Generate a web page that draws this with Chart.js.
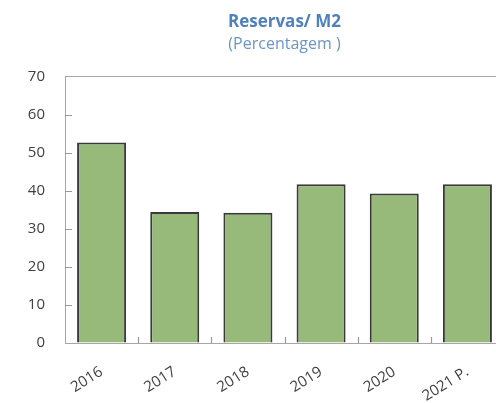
<!DOCTYPE html>
<html>
<head>
<meta charset="utf-8">
<script src="https://cdn.jsdelivr.net/npm/chart.js@4/dist/chart.umd.min.js"></script>
<style>
html,body{margin:0;padding:0;background:#fff;overflow:hidden;}
#wrap{width:504px;height:403px;position:relative;}
</style>
</head>
<body>
<div id="wrap"><canvas id="c"></canvas></div>
<script>
const categories = ['2016', '2017', '2018', '2019', '2020', '2021 P.'];
const reservasM2 = [52.7, 34.4, 34.2, 41.7, 39.3, 41.7];
const yMin = 0, yMax = 70, yStep = 10;
const titleText = 'Reservas/ M2';
const subtitleText = '(Percentagem )';

const axisGray = '#a6a6a6';
const textGray = '#404040';

const innerTicks = {
  id: 'innerTicks',
  afterDraw(chart) {
    const {ctx, chartArea, scales} = chart;
    const x = scales.x, y = scales.y;
    ctx.save();
    ctx.strokeStyle = '#9a9a9a';
    ctx.lineWidth = 1.2;
    ctx.beginPath();
    y.ticks.forEach(t => {
      if (t.value === yMin || t.value === yMax) return;
      const py = Math.round(y.getPixelForValue(t.value)) + 0.5;
      ctx.moveTo(chartArea.left, py);
      ctx.lineTo(chartArea.left + 7, py);
    });
    for (let i = 1; i < categories.length; i++) {
      const px = Math.round((x.getPixelForValue(i - 1) + x.getPixelForValue(i)) / 2) + 0.5;
      ctx.moveTo(px, chartArea.bottom);
      ctx.lineTo(px, chartArea.bottom - 6);
    }
    ctx.stroke();
    ctx.restore();
  }
};

new Chart(document.getElementById('c'), {
  type: 'bar',
  data: {
    labels: categories,
    datasets: [{
      data: reservasM2,
      backgroundColor: '#97b97a',
      borderColor: '#3a3a3a',
      borderWidth: 2,
      categoryPercentage: 1,
      barPercentage: 0.67
    }]
  },
  options: {
    responsive: true,
    maintainAspectRatio: false,
    animation: false,
    layout: { padding: { left: 0, right: 0, top: 0, bottom: 0 } },
    plugins: {
      legend: { display: false },
      tooltip: { enabled: false },
      title: {
        display: true,
        text: titleText,
        fullSize: false,
        color: '#4f81bd',
        font: { family: 'Open Sans', size: 17, weight: 'bold' },
        padding: { top: 12, bottom: 0 }
      },
      subtitle: {
        display: true,
        text: subtitleText,
        fullSize: false,
        color: '#6b95c4',
        font: { family: 'Open Sans', size: 16 },
        padding: { top: 2, bottom: 23 }
      }
    },
    scales: {
      x: {
        grid: { display: false, drawTicks: false },
        border: { display: true, color: axisGray, width: 1 },
        ticks: {
          color: textGray,
          font: { family: 'Open Sans', size: 15 },
          maxRotation: 32,
          minRotation: 32,
          padding: 20,
          autoSkip: false
        },
        afterFit(scale) { scale.height = 60; }
      },
      y: {
        min: yMin,
        max: yMax,
        grid: {
          drawTicks: false,
          color: ctx => (ctx.tick && ctx.tick.value === yMax) ? axisGray : 'rgba(0,0,0,0)',
          lineWidth: 1
        },
        border: { display: true, color: axisGray, width: 1 },
        ticks: {
          stepSize: yStep,
          color: textGray,
          font: { family: 'Open Sans', size: 15 },
          padding: 20
        },
        afterFit(scale) { scale.width = 65; }
      }
    }
  },
  plugins: [innerTicks]
});
</script>
</body>
</html>
